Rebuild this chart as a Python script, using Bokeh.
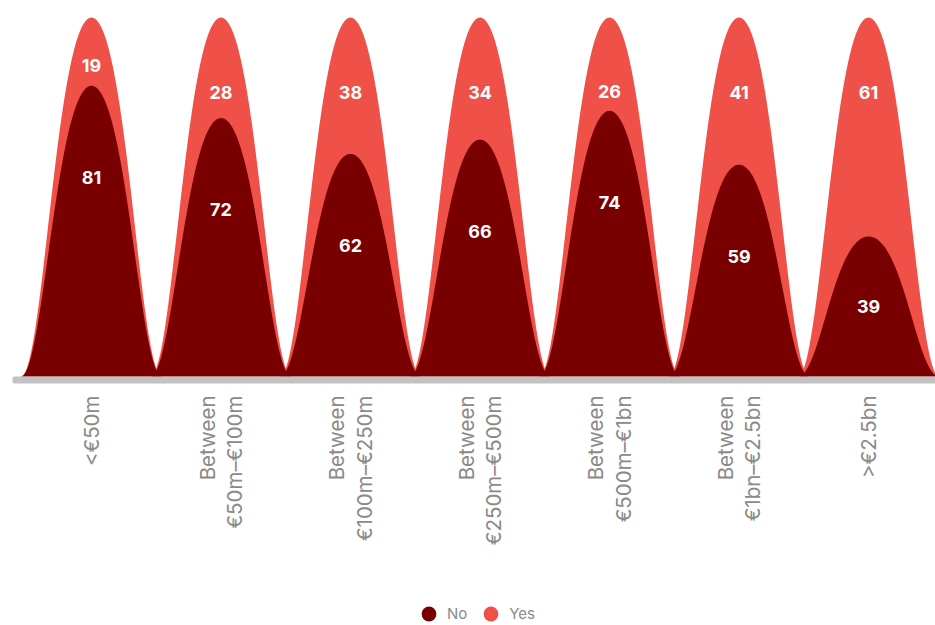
import math
import numpy as np
from bokeh.plotting import figure
from bokeh.models import ColumnDataSource, Legend, LegendItem
from bokeh.core.properties import value
from bokeh.embed import file_html
from bokeh.resources import INLINE

categories = ["<€50m", "Between\n€50m–€100m", "Between\n€100m–€250m", "Between\n€250m–€500m",
              "Between\n€500m–€1bn", "Between\n€1bn–€2.5bn", ">€2.5bn"]
no_vals = [81, 72, 62, 66, 74, 59, 39]
yes_vals = [19, 28, 38, 34, 26, 41, 61]

NO_COLOR = "#780000"
YES_COLOR = "#ef5148"
FONT = "Inter"

X0, X1 = -0.61, 6.517
Y0, Y1 = -69.36, 101.95

p = figure(frame_width=923, frame_height=615, output_backend="svg", toolbar_location=None,
           x_range=(X0, X1), y_range=(Y0, Y1),
           min_border_left=12, min_border_right=0, min_border_top=10, min_border_bottom=0)
p.outline_line_color = None
p.xgrid.visible = False
p.ygrid.visible = False
p.xaxis.visible = False
p.yaxis.visible = False


def bell(cx, h, w=0.545, n=80):
    s = np.linspace(0, 1, n)
    bx = -(1 - s) ** 3 + 3 * (1 - s) ** 2 * s * (-0.68) + 3 * (1 - s) * s ** 2 * (-0.5)
    by = 3 * (1 - s) * s ** 2 + s ** 3
    xs = np.concatenate([cx + w * bx, cx - w * bx[::-1]])
    ys = np.concatenate([h * by, h * by[::-1]])
    return list(xs), list(ys)


idx = list(range(len(categories)))
yes_x, yes_y, no_x, no_y = [], [], [], []
for i in idx:
    total = no_vals[i] + yes_vals[i]
    xs, ys = bell(i, total)
    yes_x.append(xs); yes_y.append(ys)
    xs, ys = bell(i, no_vals[i])
    no_x.append(xs); no_y.append(ys)

p.patches(yes_x, yes_y, fill_color=YES_COLOR, line_color=None)
p.patches(no_x, no_y, fill_color=NO_COLOR, line_color=None)

# category axis line (baseline)
p.line([X0 + 0.02, X1 + 0.1], [-0.97, -0.97], line_color="#c2c2c2", line_width=7, line_cap="round")

# category labels (rotated, ending just below the baseline)
cat_src = ColumnDataSource(dict(x=idx, y=[0] * len(idx), t=categories))
p.text(x="x", y="y", text="t", source=cat_src, angle=math.pi / 2, y_offset=19,
       text_align="right", text_baseline="middle", text_font=value(FONT),
       text_font_size="20.5px", text_line_height=1.1, text_color="#8a8a8a")

# data labels
no_lab_y = [max(v - 25.5, v / 2) for v in no_vals]
yes_lab_y = [max(79.0, n + 5.5) for n in no_vals]
lab_src = ColumnDataSource(dict(
    x=idx + idx,
    y=no_lab_y + yes_lab_y,
    t=[str(v) for v in no_vals] + [str(v) for v in yes_vals]))
p.text(x="x", y="y", text="t", source=lab_src, text_color="white", text_font=value(FONT),
       text_font_style="bold", text_font_size="18px", text_align="center", text_baseline="middle")

# legend markers (kept outside the visible range; only their legend swatches show)
m_no = p.scatter([X0 - 5], [0], marker="circle", size=15, fill_color=NO_COLOR, line_color=None)
m_yes = p.scatter([X0 - 5], [0], marker="circle", size=15, fill_color=YES_COLOR, line_color=None)
legend = Legend(items=[LegendItem(label="No", renderers=[m_no]),
                       LegendItem(label="Yes", renderers=[m_yes])],
                orientation="horizontal", location=(398, -7),
                label_text_font=FONT, label_text_font_size="15px", label_text_color="#8a8a8a",
                glyph_width=37, glyph_height=37, label_standoff=0, spacing=5,
                border_line_color=None, background_fill_alpha=0, margin=0, padding=0)
p.add_layout(legend)

open("out.html", "w").write(file_html(p, INLINE))
